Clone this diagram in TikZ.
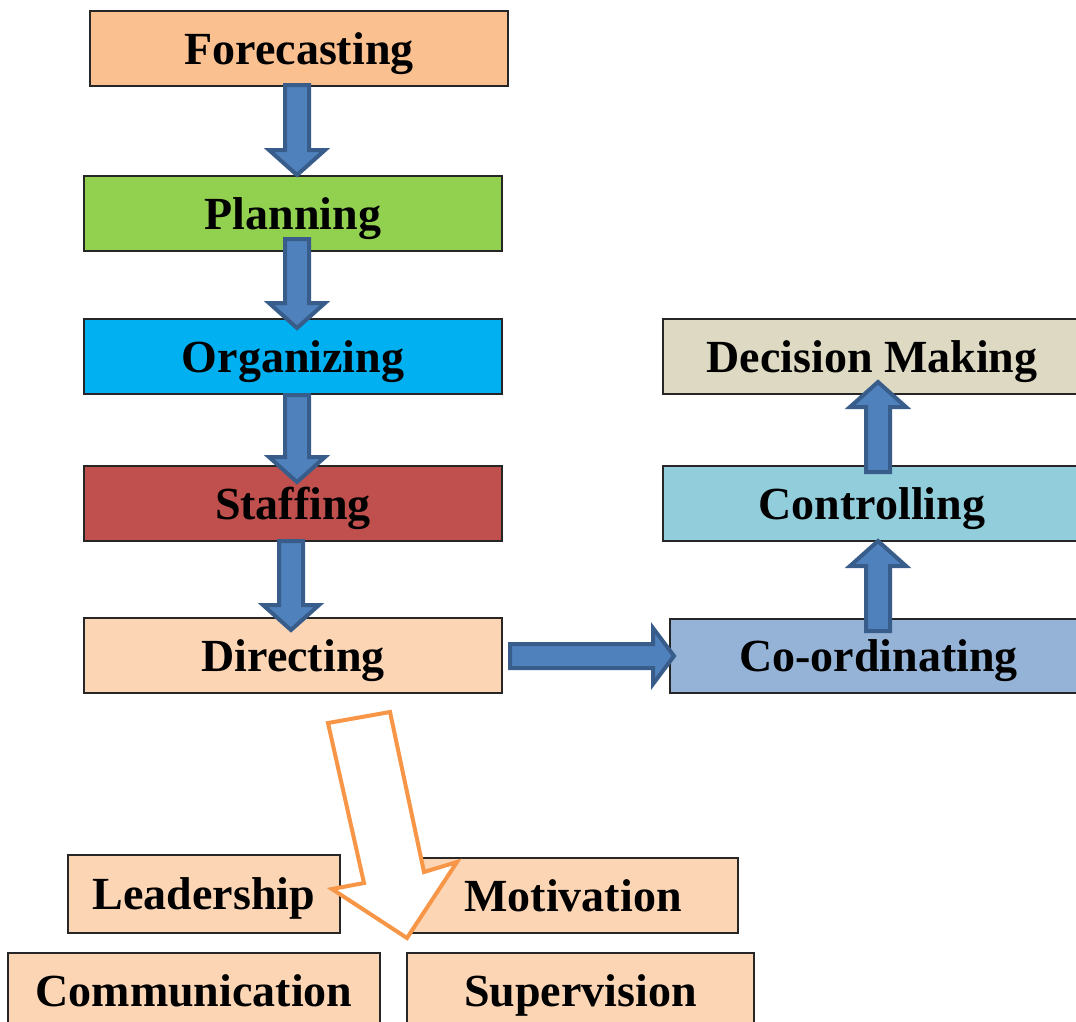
\documentclass[tikz,border=0pt]{standalone}
\usepackage{fontspec}
\setmainfont{Liberation Serif}
\usetikzlibrary{calc}

\definecolor{cForecast}{HTML}{FAC08F}
\definecolor{cPlan}{HTML}{92D050}
\definecolor{cOrg}{HTML}{00B0F0}
\definecolor{cStaff}{HTML}{C0504D}
\definecolor{cPeach}{HTML}{FCD5B5}
\definecolor{cDecision}{HTML}{DDD9C3}
\definecolor{cControl}{HTML}{92CDDC}
\definecolor{cCoord}{HTML}{95B3D7}
\definecolor{arrowfill}{HTML}{4F81BD}
\definecolor{arrowedge}{HTML}{385D8A}
\definecolor{orangeedge}{HTML}{F79646}

% block arrow from tail coordinate #2 to tip coordinate #3, head length #1
\newcommand\blockarrow[3][25pt]{%
  \coordinate (bh) at ($(#3)!#1!(#2)$);
  \draw[blk] ($(#2)!12pt!90:(#3)$) -- ($(bh)!12pt!90:(#3)$) -- ($(bh)!28pt!90:(#3)$)
    -- (#3) -- ($(bh)!28pt!-90:(#3)$) -- ($(bh)!12pt!-90:(#3)$)
    -- ($(#2)!12pt!-90:(#3)$) -- cycle;}

\begin{document}
\begin{tikzpicture}[x=1pt,y=-1pt,
  box/.style={draw=black!85,line width=1.2pt,minimum height=75pt,inner sep=0pt,
    text height=31pt,text depth=0pt,font=\fontsize{46}{50}\selectfont\bfseries},
  blk/.style={draw=arrowedge,fill=arrowfill,line width=4pt,line join=miter},
  hollow/.style={draw=orangeedge,fill=white,line width=4pt,line join=miter}]
\clip (0,0) rectangle (1076,1021);
\fill[white] (0,0) rectangle (1076,1021);

% main chain of functions
\node[box,fill=cForecast,minimum width=418pt] (fc)  at (299,48.5)  {Forecasting};
\node[box,fill=cPlan,    minimum width=418pt] (pl)  at (293,213.5) {Planning};
\node[box,fill=cOrg,     minimum width=418pt] (org) at (293,356.5) {Organizing};
\node[box,fill=cStaff,   minimum width=418pt] (st)  at (293,503.5) {Staffing};
\node[box,fill=cPeach,   minimum width=418pt] (dir) at (293,655.5) {Directing};

% right column
\node[box,fill=cDecision,minimum width=418pt] (dm)  at (872,356.5) {Decision Making};
\node[box,fill=cControl, minimum width=418pt] (ctl) at (872,503.5) {Controlling};
\node[box,fill=cCoord,   minimum width=417pt,minimum height=74pt] (co) at (878.5,656) {Co-ordinating};

% elements of directing
\node[box,fill=cPeach,minimum width=272pt,minimum height=78pt] (lead) at (204,894) {Leadership};
\node[box,fill=cPeach,minimum width=330pt] (mot) at (573,895.5) {Motivation};
\node[box,fill=cPeach,minimum width=372pt] (com) at (194,990.5) {Communication};
\node[box,fill=cPeach,minimum width=347pt] (sup) at (580.5,990.5) {Supervision};

% arrow end points
\coordinate (a1s) at (297,85);   \coordinate (a1e) at (297,175);
\coordinate (a2s) at (297,239);  \coordinate (a2e) at (297,328);
\coordinate (a3s) at (297,395);  \coordinate (a3e) at (297,482);
\coordinate (a4s) at (291,541);  \coordinate (a4e) at (291,630);
\coordinate (a5s) at (510,656);  \coordinate (a5e) at (674,656);
\coordinate (a6s) at (878,631);  \coordinate (a6e) at (878,541);
\coordinate (a7s) at (878,472);  \coordinate (a7e) at (878,382);

\blockarrow{a1s}{a1e}
\blockarrow{a2s}{a2e}
\blockarrow{a3s}{a3e}
\blockarrow{a4s}{a4e}
\blockarrow[21pt]{a5s}{a5e}
\blockarrow{a6s}{a6e}
\blockarrow{a7s}{a7e}

% hollow arrow from Directing down to its elements
\draw[hollow] (328,723) -- (390,712) -- (424,872) -- (457,862) -- (407,938)
  -- (332,889) -- (364,883) -- cycle;
\end{tikzpicture}
\end{document}
